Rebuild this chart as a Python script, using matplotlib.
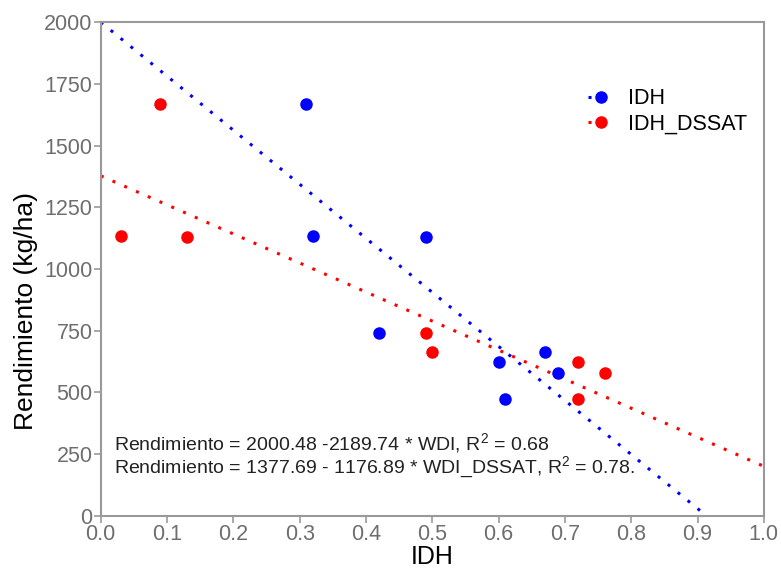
import matplotlib
matplotlib.use("Agg")
import matplotlib.pyplot as plt
import numpy as np

idh_x = [0.31, 0.32, 0.49, 0.42, 0.60, 0.61, 0.67, 0.69]
idh_y = [1670, 1135, 1128, 742, 625, 472, 662, 578]
dssat_x = [0.03, 0.09, 0.13, 0.49, 0.50, 0.72, 0.72, 0.76]
dssat_y = [1135, 1670, 1128, 742, 662, 625, 472, 578]

fit_idh = (2000.48, -2189.74)
fit_dssat = (1377.69, -1176.89)

eq1 = "Rendimiento = 2000.48 -2189.74 * WDI, R$^2$ = 0.68"
eq2 = "Rendimiento = 1377.69 - 1176.89 * WDI_DSSAT, R$^2$ = 0.78."

plt.rcParams['font.family'] = ['Liberation Sans', 'DejaVu Sans']
plt.rcParams['mathtext.fontset'] = 'custom'
plt.rcParams['mathtext.rm'] = 'Liberation Sans'

fig = plt.figure(figsize=(7.81, 5.70), dpi=100)
ax = fig.add_axes([0.129, 0.095, 0.849, 0.866])

blue = '#0000ff'
red = '#ff0000'

# trend lines
x_end_b = -fit_idh[0] / fit_idh[1]
xb = np.array([0.0, x_end_b])
ax.plot(xb, fit_idh[0] + fit_idh[1] * xb, color=blue, lw=2.2, ls=(0, (1, 3.2)), zorder=2)
xr = np.array([0.0, 1.0])
ax.plot(xr, fit_dssat[0] + fit_dssat[1] * xr, color=red, lw=2.2, ls=(0, (1, 3.2)), zorder=2)

# points
ax.plot(idh_x, idh_y, 'o', color=blue, ms=8, zorder=3)
ax.plot(dssat_x, dssat_y, 'o', color=red, ms=8, zorder=3)

# legend handles (dotted line + marker)
h1, = ax.plot([], [], color=blue, ls=(0, (1, 3.2)), lw=2.2, marker='o', ms=8)
h2, = ax.plot([], [], color=red, ls=(0, (1, 3.2)), lw=2.2, marker='o', ms=8)
ax.legend([h1, h2], ['IDH', 'IDH_DSSAT'], loc='upper left',
          bbox_to_anchor=(0.705, 0.905), frameon=False, fontsize=15.5,
          handlelength=1.2, handletextpad=0.7, labelspacing=0.2)

ax.text(0.02, 292, eq1, fontsize=14, color='#222222', va='center', ha='left')
ax.text(0.02, 197, eq2, fontsize=14, color='#222222', va='center', ha='left')

ax.set_xlim(0, 1.0)
ax.set_ylim(0, 2000)
ax.set_xticks(np.arange(0, 1.01, 0.1))
ax.set_xticklabels([f"{v:.1f}" for v in np.arange(0, 1.01, 0.1)])
ax.set_yticks(np.arange(0, 2001, 250))

for s in ax.spines.values():
    s.set_color('#999999')
    s.set_linewidth(1.5)
ax.tick_params(axis='both', colors='#999999', labelcolor='#6e6e6e', labelsize=15.5,
               length=5, width=1.2, direction='out', pad=1)

ax.set_xlabel('IDH', fontsize=18, color='black', labelpad=0)
ax.set_ylabel('Rendimiento (kg/ha)', fontsize=19, color='black')
ax.yaxis.set_label_coords(-0.095, 0.415)

fig.savefig('out.png', dpi=100)
